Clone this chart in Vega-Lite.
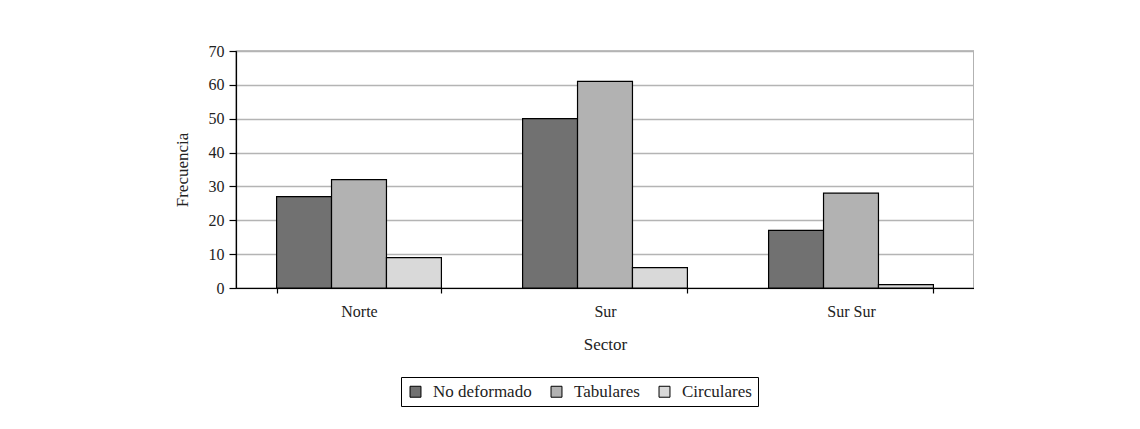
{
  "$schema": "https://vega.github.io/schema/vega-lite/v6.json",
  "width": 738,
  "height": 237,
  "padding": {"left": 173, "top": 43, "right": 0, "bottom": 0},
  "background": "white",
  "config": {
    "font": "Liberation Serif",
    "view": {"stroke": "black", "strokeWidth": 1.2},
    "axis": {
      "labelFont": "Liberation Serif",
      "titleFont": "Liberation Serif",
      "labelFontSize": 16,
      "titleFontSize": 17,
      "titleFontWeight": "normal",
      "labelColor": "#222222",
      "titleColor": "#222222",
      "domainColor": "black",
      "tickColor": "black",
      "domainWidth": 1.2,
      "tickWidth": 1.2
    },
    "legend": {
      "labelFont": "Liberation Serif",
      "labelFontSize": 17,
      "labelColor": "#222222"
    }
  },
  "data": {
    "values": [
      {"sector": "Norte", "tipo": "No deformado", "frecuencia": 27},
      {"sector": "Norte", "tipo": "Tabulares", "frecuencia": 32},
      {"sector": "Norte", "tipo": "Circulares", "frecuencia": 9},
      {"sector": "Sur", "tipo": "No deformado", "frecuencia": 50},
      {"sector": "Sur", "tipo": "Tabulares", "frecuencia": 61},
      {"sector": "Sur", "tipo": "Circulares", "frecuencia": 6},
      {"sector": "Sur Sur", "tipo": "No deformado", "frecuencia": 17},
      {"sector": "Sur Sur", "tipo": "Tabulares", "frecuencia": 28},
      {"sector": "Sur Sur", "tipo": "Circulares", "frecuencia": 1}
    ]
  },
  "mark": {"type": "bar", "stroke": "black", "strokeWidth": 1.2},
  "encoding": {
    "x": {
      "field": "sector",
      "type": "nominal",
      "sort": ["Norte", "Sur", "Sur Sur"],
      "scale": {"paddingInner": 0.33, "paddingOuter": 0.165},
      "axis": {
        "title": "Sector",
        "labelAngle": 0,
        "tickBand": "extent",
        "tickSize": 5,
        "labelPadding": 10,
        "titlePadding": 17
      }
    },
    "xOffset": {
      "field": "tipo",
      "type": "nominal",
      "sort": ["No deformado", "Tabulares", "Circulares"],
      "scale": {"paddingInner": 0, "paddingOuter": 0}
    },
    "y": {
      "field": "frecuencia",
      "type": "quantitative",
      "scale": {"domain": [0, 70], "nice": false},
      "axis": {
        "title": "Frecuencia",
        "values": [0, 10, 20, 30, 40, 50, 60, 70],
        "tickSize": 7,
        "labelPadding": 5,
        "titlePadding": 17,
        "gridColor": "#b4b4b4",
        "gridWidth": 1.5
      }
    },
    "fill": {
      "field": "tipo",
      "type": "nominal",
      "sort": ["No deformado", "Tabulares", "Circulares"],
      "scale": {
        "domain": ["No deformado", "Tabulares", "Circulares"],
        "range": ["#717171", "#b2b2b2", "#d9d9d9"]
      },
      "legend": {
        "title": null,
        "orient": "none",
        "direction": "horizontal",
        "legendX": 165,
        "legendY": 326,
        "strokeColor": "black",
        "padding": 6,
        "symbolType": "square",
        "symbolSize": 120,
        "symbolStrokeColor": "black",
        "symbolStrokeWidth": 1,
        "symbolOpacity": 1,
        "columnPadding": 16,
        "labelOffset": 9
      }
    }
  }
}
